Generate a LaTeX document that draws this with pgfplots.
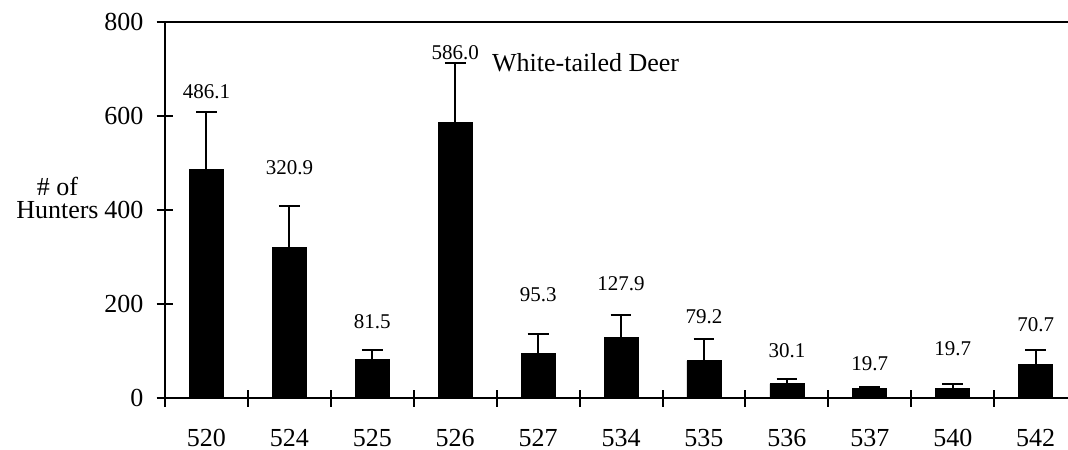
\documentclass[border=0pt]{standalone}
\usepackage{pgfplots}
\pgfplotsset{compat=1.18}
\usepackage{pgfplotstable}
\usepackage{fontspec}
\setmainfont{Liberation Serif}

\pgfplotstableread{
x y err
0 486.1 122
1 320.9 88
2 81.5 20.5
3 586.0 126
4 95.3 41
5 127.9 48
6 79.2 46
7 30.1 10
8 19.7 4.3
9 19.7 10.3
10 70.7 31.3
}\bars

\pgfplotstableread{
x y lab
0 651 486.1
1 491 320.9
2 162 81.5
3 735 586.0
4 219 95.3
5 243 127.9
6 174 79.2
7 100 30.1
8 74 19.7
9 104 19.7
10 157 70.7
}\labels

\begin{document}
\begin{tikzpicture}
\begin{axis}[
  scale only axis,
  width=451.5pt, height=188pt,
  xmin=-0.5, xmax=10.39,
  ymin=0, ymax=800,
  axis x line*=box,
  axis y line*=left,
  axis line style={line width=1pt, black},
  xtick={-0.5,0.5,...,9.5},
  xticklabels={},
  extra x ticks={0,1,2,3,4,5,6,7,8,9,10},
  extra x tick labels={520,524,525,526,527,534,535,536,537,540,542},
  extra x tick style={major tick length=0pt},
  xtick pos=left,
  ytick={0,200,400,600,800},
  ytick pos=left,
  tick align=center,
  major tick length=8.5pt,
  tick style={line width=1pt, black},
  tick label style={font=\fontsize{13}{15}\selectfont},
  xticklabel style={inner sep=1pt, yshift=-14.3pt},
  yticklabel style={xshift=-3pt},
  /pgf/number format/assume math mode=true,
  clip=false,
]
\addplot[ybar, bar width=0.41, fill=black, draw=black, bar shift=0pt,
  error bars/.cd, y dir=plus, y explicit,
  error bar style={line width=1pt, black},
  error mark options={rotate=90, mark size=5.2pt, line width=1pt, black}]
  table[x=x, y=y, y error=err] {\bars};
\addplot[draw=none, mark=none, nodes near coords, point meta=explicit symbolic,
  nodes near coords style={anchor=center, font=\fontsize{10.5}{12}\selectfont, inner sep=0pt}]
  table[x=x, y=y, meta=lab] {\labels};
\node[anchor=west, inner sep=0pt, font=\fontsize{13}{15}\selectfont] at (axis cs:3.44,713) {White-tailed Deer};
\node[align=center, anchor=east, inner sep=0pt, font=\fontsize{13}{11.5}\selectfont] at (axis cs:-0.5,425) [xshift=-33pt] {\# of\\Hunters};
\end{axis}
\pgfresetboundingbox
\useasboundingbox (-82.5pt,-25.5pt) rectangle (451.5pt,199pt);
\end{tikzpicture}
\end{document}
